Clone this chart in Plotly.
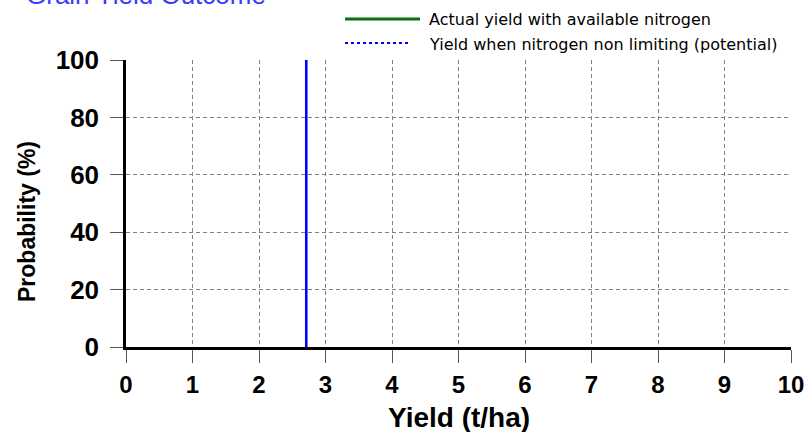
import plotly.graph_objects as go

# Data
actual_x = [2.71, 2.71]
actual_y = [0, 100]
potential_x = [2.71, 2.71]
potential_y = [0, 100]

x_ticks = [0, 1, 2, 3, 4, 5, 6, 7, 8, 9, 10]
y_ticks = [0, 20, 40, 60, 80, 100]
x_grid = [1, 2, 3, 4, 5, 6, 7, 8, 9]
y_grid = [20, 40, 60, 80]

legend_names = ["Actual yield with available nitrogen",
                "Yield when nitrogen non limiting (potential)"]
title_text = "Grain Yield Outcome"

W, H = 805, 432
L, R, T, B = 126, 14, 60, 85
pw, ph = W - L - R, H - T - B

def px(x):
    return (x - L) / pw

def py(y):
    return (H - B - y) / ph

green = "#0a6e0a"
blue = "#0000ff"
FONT = "Liberation Sans, Arial, sans-serif"
ytickfont = dict(family=FONT, size=26, color="black", weight="bold")
xtickfont = dict(family=FONT, size=24, color="black", weight="bold")
legfont = dict(family="DejaVu Sans, sans-serif", size=16, color="black")

fig = go.Figure()
# invisible trace so the grid axes are drawn (underneath data)
fig.add_trace(go.Scatter(x=[None], y=[None], xaxis="x2", yaxis="y2",
                         showlegend=False, hoverinfo="skip"))
fig.add_trace(go.Scatter(x=actual_x, y=actual_y, mode="lines",
                         line=dict(color=green, width=2), showlegend=False,
                         name=legend_names[0]))
fig.add_trace(go.Scatter(x=potential_x, y=potential_y, mode="lines",
                         line=dict(color=blue, width=2.5), showlegend=False,
                         name=legend_names[1]))

# legend drawn manually
shapes = [
    dict(type="line", xref="paper", yref="paper", x0=px(345), x1=px(420),
         y0=py(19), y1=py(19), line=dict(color=green, width=3)),
    dict(type="line", xref="paper", yref="paper", x0=px(345), x1=px(411),
         y0=py(43), y1=py(43), line=dict(color=blue, width=2, dash="dot")),
]
annotations = [
    dict(text=legend_names[0], xref="paper", yref="paper", x=px(427), y=py(19),
         xanchor="left", yanchor="middle", showarrow=False, font=legfont),
    dict(text=legend_names[1], xref="paper", yref="paper", x=px(427), y=py(44),
         xanchor="left", yanchor="middle", showarrow=False, font=legfont),
    dict(text=title_text, xref="paper", yref="paper", x=px(24), y=py(-5),
         xanchor="left", yanchor="middle", showarrow=False,
         font=dict(family=FONT, size=26, color="#3a3aff")),
    dict(text="<b>Probability (%)</b>", xref="paper", yref="paper", x=px(27), y=py(222),
         xanchor="center", yanchor="middle", showarrow=False, textangle=-90,
         font=dict(family=FONT, size=23, color="black")),
    dict(text="<b>Yield (t/ha)</b>", xref="paper", yref="paper", x=0.5, y=py(417),
         xanchor="center", yanchor="middle", showarrow=False,
         font=dict(family=FONT, size=28, color="black")),
]

fig.update_layout(
    width=W, height=H,
    margin=dict(l=L, r=R, t=T, b=B, autoexpand=False),
    paper_bgcolor="white", plot_bgcolor="white",
    showlegend=False,
    shapes=shapes, annotations=annotations,
    xaxis=dict(range=[0, 10], tickvals=x_ticks, ticks="outside", ticklen=13,
               tickwidth=1, tickcolor="#555555", showgrid=False, zeroline=False,
               showline=True, linecolor="black", linewidth=2.5,
               tickfont=xtickfont, ticklabelstandoff=1, automargin=False,
               ticklabeloverflow="allow"),
    yaxis=dict(range=[0, 100], tickvals=y_ticks, ticks="outside", ticklen=13,
               tickwidth=1, tickcolor="#555555", showgrid=False, zeroline=False,
               showline=True, linecolor="black", linewidth=2.5,
               tickfont=ytickfont, ticklabelstandoff=6, automargin=False),
    xaxis2=dict(range=[0, 10], overlaying="x", tickvals=x_grid, showgrid=True,
                gridcolor="#808080", gridwidth=1, griddash="4px,3px",
                showticklabels=False, ticks="", zeroline=False, showline=False,
                automargin=False),
    yaxis2=dict(range=[0, 100], overlaying="y", tickvals=y_grid, showgrid=True,
                gridcolor="#808080", gridwidth=1, griddash="4px,3px",
                showticklabels=False, ticks="", zeroline=False, showline=False,
                automargin=False),
)

fig.write_html("out.html",
               config={"displayModeBar": False},
               post_script="document.body.style.margin='0';"
                           "document.body.style.overflow='hidden';"
                           "document.documentElement.style.overflow='hidden';")
